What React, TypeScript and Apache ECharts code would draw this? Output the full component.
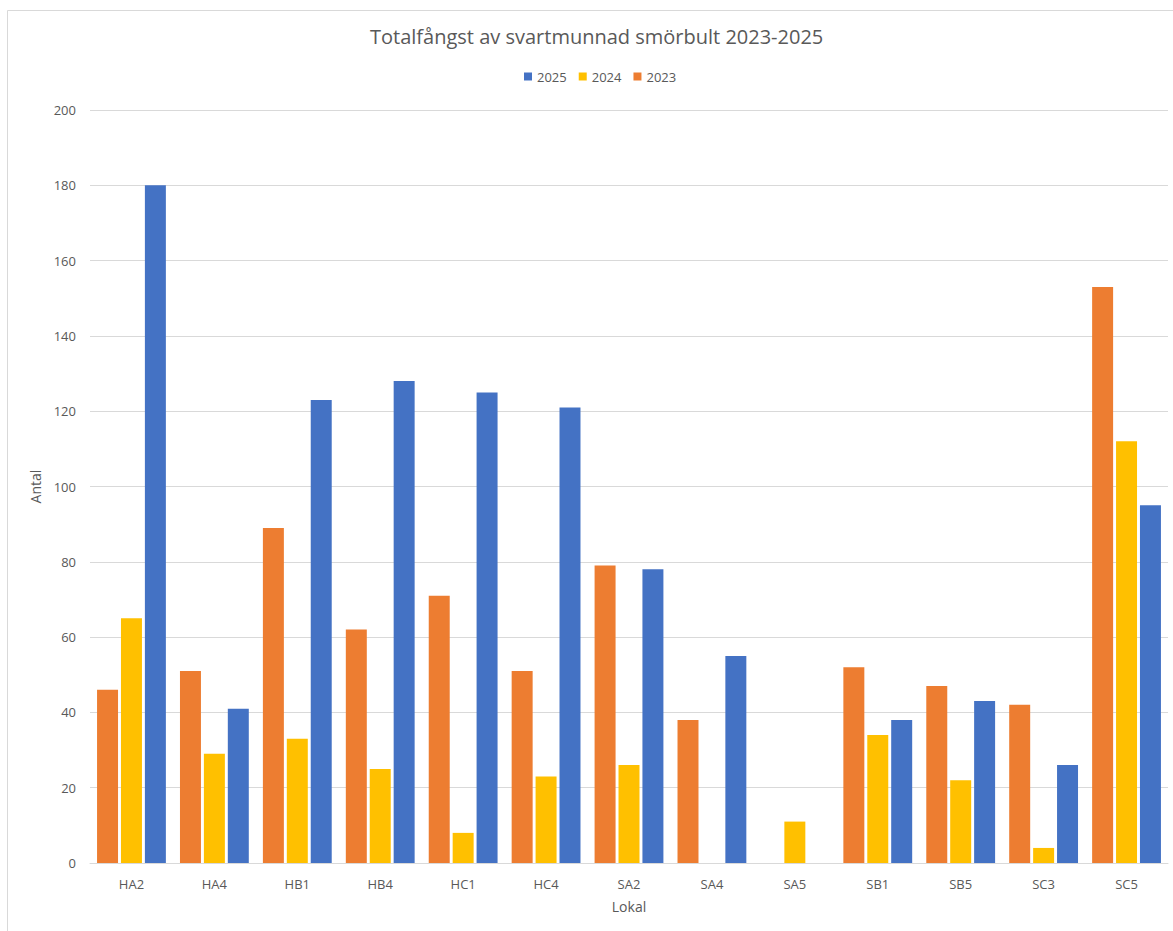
import React, { useEffect, useRef } from "react";
import * as echarts from "echarts";

const categories = ["HA2", "HA4", "HB1", "HB4", "HC1", "HC4", "SA2", "SA4", "SA5", "SB1", "SB5", "SC3", "SC5"];
const values2023 = [46, 51, 89, 62, 71, 51, 79, 38, 0, 52, 47, 42, 153];
const values2024 = [65, 29, 33, 25, 8, 23, 26, 0, 11, 34, 22, 4, 112];
const values2025 = [180, 41, 123, 128, 125, 121, 78, 55, 0, 38, 43, 26, 95];
const legendOrder = ["2025", "2024", "2023"];
const yTicks = { min: 0, max: 200, interval: 20 };

const FONT = "'Open Sans', 'Noto Sans', sans-serif";
const TEXT = "#595959";

export default function App() {
  const ref = useRef<HTMLDivElement>(null);
  useEffect(() => {
    document.body.style.margin = "0";
    if (!ref.current) return;
    const chart = echarts.init(ref.current, null, { renderer: "svg" });
    chart.setOption({
      animation: false,
      backgroundColor: "#ffffff",
      textStyle: { fontFamily: FONT, color: TEXT },
      title: {
        text: "Totalfångst av svartmunnad smörbult 2023-2025",
        left: 370,
        top: 26,
        padding: 0,
        textStyle: { fontFamily: FONT, fontSize: 20, fontWeight: "normal", color: TEXT },
      },
      legend: {
        data: legendOrder,
        left: 524,
        top: 70,
        padding: 0,
        itemWidth: 8,
        itemHeight: 8,
        itemGap: 12,
        icon: "rect",
        textStyle: { fontFamily: FONT, fontSize: 13, color: TEXT },
      },
      graphic: [
        {
          type: "rect",
          shape: { x: 7.5, y: 10.5, width: 1200, height: 1000 },
          style: { fill: "none", stroke: "#d9d9d9", lineWidth: 1 },
          silent: true,
        },
      ],
      grid: { left: 90, right: 5, top: 110, bottom: 68, containLabel: false, outerBoundsMode: "none" },
      xAxis: {
        type: "category",
        data: categories,
        name: "Lokal",
        nameLocation: "middle",
        nameGap: 36,
        nameTextStyle: { fontFamily: FONT, fontSize: 14, color: TEXT },
        axisLine: { lineStyle: { color: "#d9d9d9" } },
        axisTick: { show: false },
        axisLabel: { fontFamily: FONT, fontSize: 13, color: TEXT, margin: 14 },
      },
      yAxis: {
        type: "value",
        min: yTicks.min,
        max: yTicks.max,
        interval: yTicks.interval,
        name: "Antal",
        nameLocation: "middle",
        nameGap: 43,
        nameTextStyle: { fontFamily: FONT, fontSize: 14, color: TEXT },
        axisLine: { show: false },
        axisTick: { show: false },
        axisLabel: { fontFamily: FONT, fontSize: 13, color: TEXT, margin: 14 },
        splitLine: { lineStyle: { color: "#d9d9d9" } },
      },
      series: [
        { name: "2023", type: "bar", data: values2023, itemStyle: { color: "#ED7D31" }, barGap: "14%", barCategoryGap: "17%" },
        { name: "2024", type: "bar", data: values2024, itemStyle: { color: "#FFC000" }, barGap: "14%", barCategoryGap: "17%" },
        { name: "2025", type: "bar", data: values2025, itemStyle: { color: "#4472C4" }, barGap: "14%", barCategoryGap: "17%" },
      ],
    });
    return () => chart.dispose();
  }, []);
  return <div ref={ref} style={{ width: 1173, height: 931 }} />;
}
